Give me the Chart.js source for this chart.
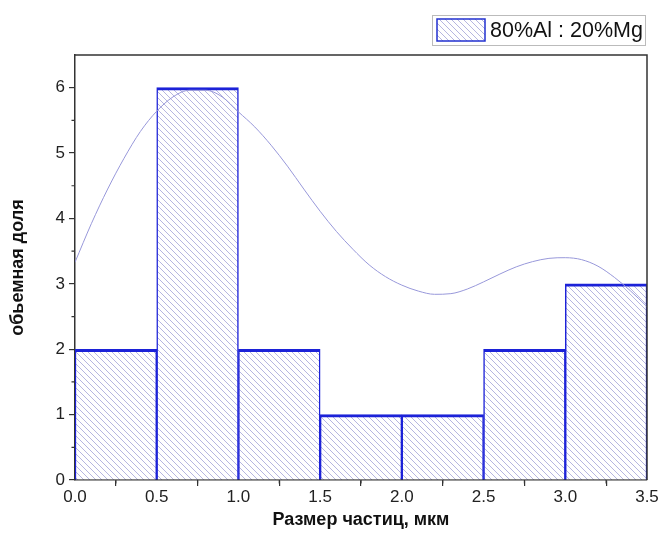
<!DOCTYPE html>
<html>
<head>
<meta charset="utf-8">
<script src="https://cdn.jsdelivr.net/npm/chart.js@4"></script>
<style>
    html, body { margin: 0; padding: 0; background: #fff; }
    #wrap { width: 661px; height: 535px; position: relative; }
</style>
</head>
<body>
<div id="wrap"><canvas id="histChart"></canvas></div>
<script>
// Histogram bins (centres) and counts
const binCenters = [0.25, 0.75, 1.25, 1.75, 2.25, 2.75, 3.25];
const binCounts = [2, 6, 2, 1, 1, 2, 3];

// Fitted curve
const curveX = [0, 0.1, 0.2, 0.3, 0.4, 0.5, 0.6, 0.7, 0.8, 0.9, 1.0, 1.1, 1.2, 1.3, 1.4, 1.5, 1.6, 1.7,
    1.8, 1.9, 2.0, 2.1, 2.2, 2.3, 2.4, 2.5, 2.6, 2.7, 2.8, 2.9, 3.0, 3.1, 3.2, 3.3, 3.4, 3.5];
const curveY = [3.33, 3.92, 4.45, 4.92, 5.33, 5.64, 5.86, 5.96, 5.96, 5.86, 5.63, 5.40, 5.12, 4.80, 4.45, 4.11, 3.80, 3.53,
    3.29, 3.11, 2.98, 2.89, 2.84, 2.85, 2.92, 3.03, 3.15, 3.26, 3.34, 3.39, 3.40, 3.37, 3.27, 3.10, 2.89, 2.65];

// Axis ticks
const xTicks = [0, 0.5, 1.0, 1.5, 2.0, 2.5, 3.0, 3.5];
const yTicks = [0, 1, 2, 3, 4, 5, 6];
const xMinorTicks = [0.25, 0.75, 1.25, 1.75, 2.25, 2.75, 3.25];
const yMinorTicks = [0.5, 1.5, 2.5, 3.5, 4.5, 5.5];

const seriesLabel = '80%Al : 20%Mg';

// Diagonal hatch pattern
function makeHatch() {
    const size = 6;
    const c = document.createElement('canvas');
    c.width = size;
    c.height = size;
    const g = c.getContext('2d');
    g.fillStyle = '#ffffff';
    g.fillRect(0, 0, size, size);
    g.strokeStyle = '#b6b6e0';
    g.lineWidth = 1;
    g.beginPath();
    g.moveTo(-1, -1);
    g.lineTo(size + 1, size + 1);
    g.moveTo(-1, size - 1);
    g.lineTo(1, size + 1);
    g.moveTo(size - 1, -1);
    g.lineTo(size + 1, 1);
    g.stroke();
    return g.createPattern(c, 'repeat');
}
const hatch = makeHatch();

// Frame, minor ticks and the boxed legend
const framePlugin = {
    id: 'frame',
    afterDraw(chart) {
        const { ctx, chartArea: a, scales } = chart;
        ctx.save();
        ctx.strokeStyle = '#333';
        ctx.lineWidth = 1.5;
        ctx.beginPath();
        ctx.moveTo(a.left, a.top);
        ctx.lineTo(a.right, a.top);
        ctx.lineTo(a.right, a.bottom);
        ctx.stroke();

        ctx.lineWidth = 1.2;
        ctx.beginPath();
        xMinorTicks.forEach(v => {
            const px = scales.x.getPixelForValue(v);
            ctx.moveTo(px, a.bottom);
            ctx.lineTo(px, a.bottom + 3.5);
        });
        yMinorTicks.forEach(v => {
            const py = scales.y.getPixelForValue(v);
            ctx.moveTo(a.left, py);
            ctx.lineTo(a.left - 3.5, py);
        });
        ctx.stroke();

        // legend
        ctx.fillStyle = '#fff';
        ctx.fillRect(432, 15, 213, 30);
        ctx.strokeStyle = '#bbb';
        ctx.lineWidth = 1;
        ctx.strokeRect(432.5, 15.5, 213, 30);
        ctx.fillStyle = hatch;
        ctx.fillRect(437, 19, 48, 22);
        ctx.strokeStyle = '#2230d0';
        ctx.lineWidth = 1.5;
        ctx.strokeRect(437, 19, 48, 22);
        ctx.fillStyle = '#111';
        ctx.font = '21.5px "Liberation Sans", Arial, sans-serif';
        ctx.textBaseline = 'middle';
        ctx.textAlign = 'left';
        ctx.fillText(seriesLabel, 490, 31);
        ctx.restore();
    }
};

const tickFont = { family: '"Liberation Sans", Arial, sans-serif', size: 17 };
const titleFont = { family: '"Liberation Sans", Arial, sans-serif', size: 18, weight: 'bold' };

new Chart(document.getElementById('histChart'), {
    data: {
        datasets: [{
            type: 'line',
            label: 'fit',
            data: curveX.map((x, i) => ({ x: x, y: curveY[i] })),
            borderColor: '#9898da',
            borderWidth: 1,
            pointRadius: 0,
            cubicInterpolationMode: 'monotone',
            fill: false,
            order: 0
        }, {
            type: 'bar',
            label: seriesLabel,
            data: binCenters.map((x, i) => ({ x: x, y: binCounts[i] })),
            backgroundColor: hatch,
            borderColor: '#1c22d8',
            borderWidth: { top: 3, left: 1.5, right: 1.5, bottom: 0 },
            borderSkipped: false,
            barPercentage: 1,
            categoryPercentage: 1,
            order: 1
        }]
    },
    options: {
        responsive: true,
        maintainAspectRatio: false,
        animation: false,
        layout: { padding: { top: 55, right: 14, left: 0, bottom: 0 } },
        plugins: {
            legend: { display: false },
            tooltip: { enabled: false }
        },
        scales: {
            x: {
                type: 'linear',
                min: 0,
                max: 3.5,
                offset: false,
                afterBuildTicks: (scale) => { scale.ticks = xTicks.map(v => ({ value: v })); },
                afterFit: (scale) => { scale.height = 55; },
                grid: { drawOnChartArea: false, drawTicks: true, tickLength: 6, color: '#333', lineWidth: 1.2 },
                border: { display: true, color: '#333', width: 1.5 },
                ticks: {
                    color: '#222',
                    font: tickFont,
                    padding: 1,
                    maxRotation: 0,
                    callback: (v) => Number(v).toFixed(1)
                },
                title: {
                    display: true,
                    text: 'Размер частиц, мкм',
                    color: '#111',
                    font: titleFont,
                    padding: { top: 4, bottom: 4 }
                }
            },
            y: {
                min: 0,
                max: 6.5,
                afterBuildTicks: (scale) => { scale.ticks = yTicks.map(v => ({ value: v })); },
                afterFit: (scale) => { scale.width = 75; },
                grid: { drawOnChartArea: false, drawTicks: true, tickLength: 6, color: '#333', lineWidth: 1.2 },
                border: { display: true, color: '#333', width: 1.5 },
                ticks: {
                    color: '#222',
                    font: tickFont,
                    padding: 4
                },
                title: {
                    display: true,
                    text: 'обьемная доля',
                    color: '#111',
                    font: titleFont,
                    padding: { top: 7, bottom: 0 }
                }
            }
        }
    },
    plugins: [framePlugin]
});
</script>
</body>
</html>
